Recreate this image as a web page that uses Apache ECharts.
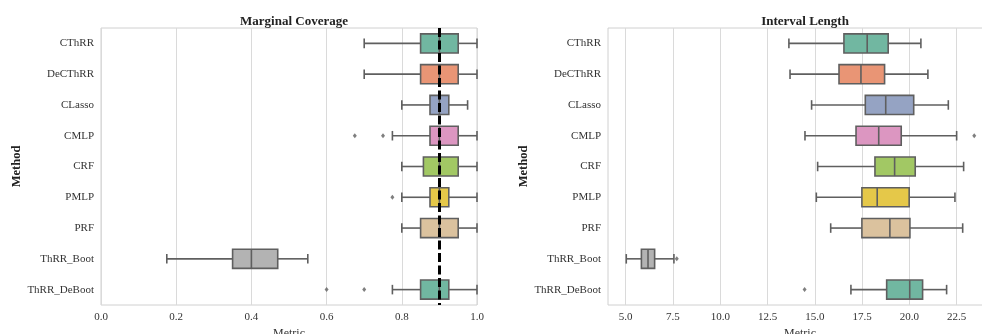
<!DOCTYPE html>
<html>
<head>
<meta charset="utf-8">
<script src="https://cdn.jsdelivr.net/npm/echarts@6/dist/echarts.min.js"></script>
<style>
html,body{margin:0;padding:0;background:#fff;}
#chart{width:982px;height:334px;}
</style>
</head>
<body>
<div id="chart"></div>
<script>
// ---- data ----
const methods = ['CThRR','DeCThRR','CLasso','CMLP','CRF','PMLP','PRF','ThRR_Boot','ThRR_DeBoot'];
// [whiskerLow, Q1, median, Q3, whiskerHigh]
const coverageStats = [
  [0.70, 0.85, 0.90, 0.95, 1.00],
  [0.70, 0.85, 0.90, 0.95, 1.00],
  [0.80, 0.875, 0.90, 0.925, 0.975],
  [0.775, 0.875, 0.90, 0.95, 1.00],
  [0.80, 0.8575, 0.90, 0.95, 1.00],
  [0.80, 0.875, 0.90, 0.925, 1.00],
  [0.80, 0.85, 0.90, 0.95, 1.00],
  [0.175, 0.35, 0.40, 0.47, 0.55],
  [0.775, 0.85, 0.90, 0.925, 1.00]
];
// [methodIndex, value]
const coverageOutliers = [[3,0.675],[3,0.75],[5,0.775],[8,0.60],[8,0.70]];
const targetCoverage = 0.9;

const lengthStats = [
  [13.63, 16.54, 17.77, 18.88, 20.61],
  [13.69, 16.28, 17.44, 18.69, 20.98],
  [14.83, 17.67, 18.75, 20.23, 22.06],
  [14.48, 17.18, 18.38, 19.57, 22.50],
  [15.15, 18.18, 19.22, 20.31, 22.87],
  [15.08, 17.49, 18.30, 19.99, 22.41],
  [15.84, 17.49, 18.97, 20.03, 22.82],
  [5.03, 5.83, 6.18, 6.53, 7.55],
  [16.91, 18.80, 20.02, 20.70, 21.97]
];
const lengthOutliers = [[3,23.43],[7,7.70],[8,14.46]];

const coverageTicks = [0.0, 0.2, 0.4, 0.6, 0.8, 1.0];
const lengthTicks = [5.0, 7.5, 10.0, 12.5, 15.0, 17.5, 20.0, 22.5];

// ---- style ----
const palette = ['#71b7a1','#e99575','#95a3c3','#dc96c1','#a2c864','#e5c849','#dbc29e','#b3b3b3','#71b7a1'];
const edge = '#5f5f5f';
const FONT = '"Liberation Serif", "Times New Roman", serif';

function boxData(stats){ return stats.map((s,i)=>[i].concat(s)); }

function renderBox(params, api){
  const ci = api.value(0);
  const band = api.size([0,1])[1];
  const halfBox = band*0.31;
  const halfCap = band*0.155;
  const p = [1,2,3,4,5].map(d=>api.coord([api.value(d), ci]));
  const y = p[0][1];
  const ls = {stroke: edge, lineWidth: 1.6};
  return {
    type:'group',
    children:[
      {type:'line', shape:{x1:p[0][0],y1:y,x2:p[1][0],y2:y}, style:ls},
      {type:'line', shape:{x1:p[3][0],y1:y,x2:p[4][0],y2:y}, style:ls},
      {type:'line', shape:{x1:p[0][0],y1:y-halfCap,x2:p[0][0],y2:y+halfCap}, style:ls},
      {type:'line', shape:{x1:p[4][0],y1:y-halfCap,x2:p[4][0],y2:y+halfCap}, style:ls},
      {type:'rect', shape:{x:p[1][0], y:y-halfBox, width:p[3][0]-p[1][0], height:2*halfBox},
        style:{fill: palette[ci], stroke: edge, lineWidth: 1.6}},
      {type:'line', shape:{x1:p[2][0],y1:y-halfBox,x2:p[2][0],y2:y+halfBox}, style:ls}
    ]
  };
}

function yAxisCfg(gi){
  return {
    type:'category', gridIndex:gi, data:methods, inverse:true,
    name:'Method', nameLocation:'middle', nameGap:78,
    nameTextStyle:{fontFamily:FONT, fontSize:12.5, fontWeight:'bold', color:'#222'},
    axisLine:{show:false}, axisTick:{show:false}, splitLine:{show:false},
    axisLabel:{fontFamily:FONT, fontSize:11, color:'#333', margin:7}
  };
}

const chart = echarts.init(document.getElementById('chart'), null, {renderer:'canvas'});
chart.setOption({
  animation:false,
  backgroundColor:'#fff',
  title:[
    {text:'Marginal Coverage', left:289, top:10, textAlign:'center',
     textStyle:{fontFamily:FONT, fontSize:13, fontWeight:'bold', color:'#222'}},
    {text:'Interval Length', left:800, top:10, textAlign:'center',
     textStyle:{fontFamily:FONT, fontSize:13, fontWeight:'bold', color:'#222'}}
  ],
  grid:[
    {left:101, width:376, top:28, height:277, outerBoundsMode:'none', containLabel:false,
     show:true, borderColor:'#d0d0d0', borderWidth:1, backgroundColor:'#fff'},
    {left:608, width:384, top:28, height:277, outerBoundsMode:'none', containLabel:false,
     show:true, borderColor:'#d0d0d0', borderWidth:1, backgroundColor:'#fff'}
  ],
  xAxis:[
    {type:'value', gridIndex:0, min:0, max:1, interval:0.2,
     name:'Metric', nameLocation:'middle', nameGap:19,
     nameTextStyle:{fontFamily:FONT, fontSize:12, color:'#333'},
     axisLine:{show:false}, axisTick:{show:false},
     splitLine:{show:true, lineStyle:{color:'#dadada', width:1}},
     axisLabel:{fontFamily:FONT, fontSize:11, color:'#333', margin:7,
       customValues: coverageTicks, formatter:v=>Number(v).toFixed(1)}},
    {type:'value', gridIndex:1, min:4.064, max:24.37,
     name:'Metric', nameLocation:'middle', nameGap:19,
     nameTextStyle:{fontFamily:FONT, fontSize:12, color:'#333'},
     axisLine:{show:false}, axisTick:{show:false, customValues: lengthTicks},
     splitLine:{show:true, lineStyle:{color:'#dadada', width:1}},
     axisLabel:{fontFamily:FONT, fontSize:11, color:'#333', margin:7,
       customValues: lengthTicks, formatter:v=>Number(v).toFixed(1)}}
  ],
  yAxis:[yAxisCfg(0), yAxisCfg(1)],
  series:[
    {type:'custom', xAxisIndex:0, yAxisIndex:0, renderItem:renderBox,
     encode:{x:[1,2,3,4,5], y:0}, data:boxData(coverageStats), z:2},
    {type:'scatter', xAxisIndex:0, yAxisIndex:0, symbol:'diamond', symbolSize:[4,5],
     itemStyle:{color:edge}, data:coverageOutliers.map(o=>[o[1], o[0]]), z:3},
    {type:'custom', xAxisIndex:1, yAxisIndex:1, renderItem:renderBox,
     encode:{x:[1,2,3,4,5], y:0}, data:boxData(lengthStats), z:2},
    {type:'scatter', xAxisIndex:1, yAxisIndex:1, symbol:'diamond', symbolSize:[4,5],
     itemStyle:{color:edge}, data:lengthOutliers.map(o=>[o[1], o[0]]), z:3},
    {type:'line', xAxisIndex:0, yAxisIndex:0, data:[], z:5, silent:true,
     markLine:{silent:true, symbol:['none','none'], label:{show:false},
       lineStyle:{color:'#000', width:3, type:[9,3.5]},
       data:[{xAxis:targetCoverage}]}}
  ]
});
</script>
</body>
</html>
